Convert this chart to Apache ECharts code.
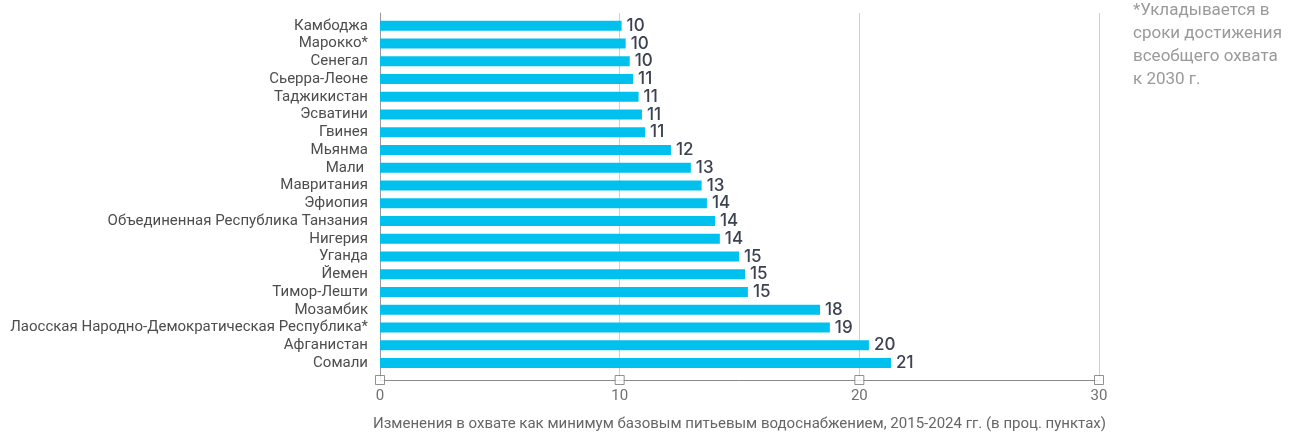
<!DOCTYPE html>
<html>
<head>
<meta charset="utf-8">
<script src="https://cdn.jsdelivr.net/npm/echarts@6/dist/echarts.min.js"></script>
<style>
html,body{margin:0;padding:0;background:#fff;}
#chart{width:1293px;height:433px;}
</style>
</head>
<body>
<div id="chart"></div>
<script>
const categories = ["Камбоджа","Марокко*","Сенегал","Сьерра-Леоне","Таджикистан","Эсватини","Гвинея","Мьянма","Мали ","Мавритания","Эфиопия","Объединенная Республика Танзания","Нигерия","Уганда","Йемен","Тимор-Лешти","Мозамбик","Лаосская Народно-Демократическая Республика*","Афганистан","Сомали"];
const values = [10.08,10.25,10.42,10.56,10.79,10.93,11.06,12.14,12.97,13.42,13.64,13.98,14.18,14.98,15.23,15.35,18.36,18.77,20.4,21.32];
const xTicks = [0,10,20,30];
const axisTitle = "Изменения в охвате как минимум базовым питьевым водоснабжением, 2015-2024 гг. (в проц. пунктах)";
const footnote = "*Укладывается в\nсроки достижения\nвсеобщего охвата\nк 2030 г.";

const chart = echarts.init(document.getElementById('chart'));
chart.setOption({
  animation: false,
  title: {
    text: footnote, left: 1128, top: -6,
    textStyle: {fontFamily: 'Roboto', fontSize: 17, fontWeight: 'normal', color: '#9a9a9a', lineHeight: 23}
  },
  grid: [
    {left: 380, right: 194, top: 13, bottom: 53, containLabel: false, outerBoundsMode: 'none'},
    {left: 380, right: 194, top: 16.9, height: 355, containLabel: false, outerBoundsMode: 'none'}
  ],
  xAxis: [
    {gridIndex: 0, type: 'value', min: 0, max: 30, interval: 10,
     axisLine: {show: true, lineStyle: {color: '#8a8a8a', width: 1}},
     axisTick: {show: false},
     splitLine: {show: true, lineStyle: {color: '#cfcfcf', width: 1}},
     axisLabel: {fontFamily: 'Roboto', fontSize: 15, color: '#707070', margin: 9},
     name: axisTitle, nameLocation: 'middle', nameGap: 37,
     nameTextStyle: {fontFamily: 'Roboto', fontSize: 15, color: '#666'}},
    {gridIndex: 1, type: 'value', min: 0, max: 30, show: false}
  ],
  yAxis: [
    {gridIndex: 0, type: 'value', min: 0, max: 1,
     axisLine: {show: true, lineStyle: {color: '#999', width: 1}},
     axisTick: {show: false}, axisLabel: {show: false}, splitLine: {show: false}},
    {gridIndex: 1, type: 'category', data: categories, inverse: true,
     axisLine: {show: false}, axisTick: {show: false}, splitLine: {show: false},
     axisLabel: {interval: 0, fontFamily: 'Roboto', fontSize: 15, color: '#4d4d4d', margin: 12}}
  ],
  series: [
    {type: 'bar', xAxisIndex: 1, yAxisIndex: 1, data: values, barWidth: 10,
     itemStyle: {color: '#00C1EE'},
     label: {show: true, position: 'right', distance: 5,
       formatter: p => Math.round(p.value),
       fontFamily: 'Inter', fontSize: 17, fontWeight: 500, color: '#3b4252'}},
    {type: 'scatter', xAxisIndex: 0, yAxisIndex: 0, clip: false,
     data: xTicks.map(v => [v, 0]), symbol: 'rect', symbolSize: 9,
     itemStyle: {color: '#fff', borderColor: '#777', borderWidth: 1}, z: 5}
  ]
});
</script>
</body>
</html>
